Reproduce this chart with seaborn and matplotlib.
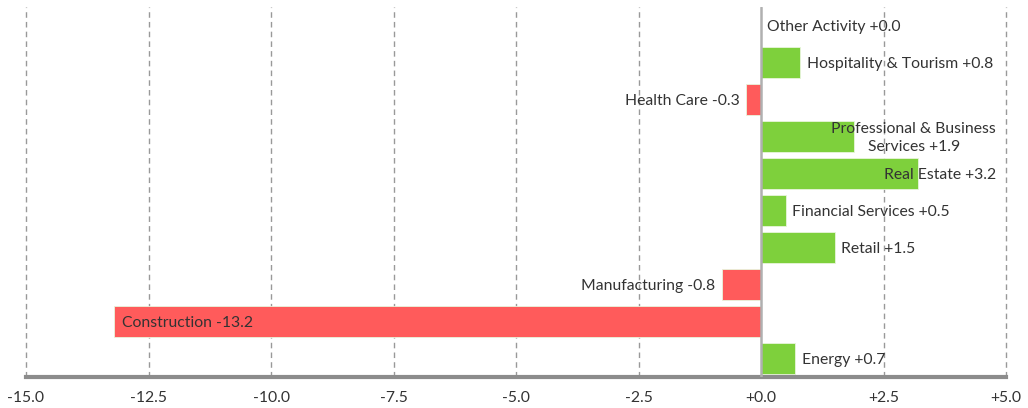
import textwrap
import matplotlib
matplotlib.use("Agg")
import matplotlib.pyplot as plt
import seaborn as sns
import pandas as pd

# dados
sectors = ["Other Activity", "Hospitality & Tourism", "Health Care",
           "Professional & Business Services", "Real Estate", "Financial Services",
           "Retail", "Manufacturing", "Construction", "Energy"]
change = [0.0, 0.8, -0.3, 1.9, 3.2, 0.5, 1.5, -0.8, -13.2, 0.7]
x_ticks = [-15.0, -12.5, -10.0, -7.5, -5.0, -2.5, 0.0, 2.5, 5.0]

GREEN = "#7ed03c"
RED = "#ff5b5b"

df = pd.DataFrame({"sector": sectors, "change": change})
df["sign"] = ["neg" if v < 0 else "pos" for v in df["change"]]

sns.set_style("white")
plt.rcParams["font.family"] = ["Lato", "DejaVu Sans"]

fig = plt.figure(figsize=(10.28, 4.08), dpi=100)
ax = fig.add_axes([26 / 1028, 31 / 408, 980 / 1028, 370 / 408])

sns.barplot(data=df, x="change", y="sector", hue="sign", orient="h",
            palette={"pos": GREEN, "neg": RED}, saturation=1, dodge=False,
            width=0.86, edgecolor="#e8f5dc", linewidth=0.6, legend=False, ax=ax)

ax.set_xlim(-15, 5)
ax.set_ylim(len(sectors) - 0.5, -0.5)
ax.set_xticks(x_ticks)
ax.set_xticklabels([f"{t:+.1f}" if t >= 0 else f"{t:.1f}" for t in x_ticks],
                   fontsize=11.3, color="#333333")
ax.set_yticks([])
ax.set_xlabel("")
ax.set_ylabel("")
ax.tick_params(axis="x", length=0, pad=10)

for t in x_ticks:
    if t != 0:
        ax.axvline(t, color="#999999", ls=(0, (4, 3)), lw=1, zorder=0, clip_on=False)
ax.axvline(0, color="#b0b0b0", lw=1.8, zorder=3)

for s in ["top", "right", "left"]:
    ax.spines[s].set_visible(False)
ax.spines["bottom"].set_color("#8c8c8c")
ax.spines["bottom"].set_linewidth(3)

# rótulos
fig.canvas.draw()
renderer = fig.canvas.get_renderer()
off = 0.13
right_lim = 4.8
for i, (name, v) in enumerate(zip(sectors, change)):
    label = textwrap.fill(f"{name} {v:+.1f}", 27)
    if v >= 0:
        txt = ax.text(v + off, i + 0.05, label, ha="left", va="center", fontsize=11.3,
                      color="#333333", multialignment="center", linespacing=1.35,
                      zorder=4)
        bb = txt.get_window_extent(renderer).transformed(ax.transData.inverted())
        if bb.x1 > right_lim:
            txt.set_x(right_lim)
            txt.set_ha("right")
    else:
        txt = ax.text(v - off, i + 0.05, label, ha="right", va="center", fontsize=11.3,
                      color="#333333", zorder=4)
        bb = txt.get_window_extent(renderer).transformed(ax.transData.inverted())
        if bb.x0 < -15:
            txt.set_x(v + off + 0.03)
            txt.set_ha("left")

fig.savefig("out.png", dpi=100)
